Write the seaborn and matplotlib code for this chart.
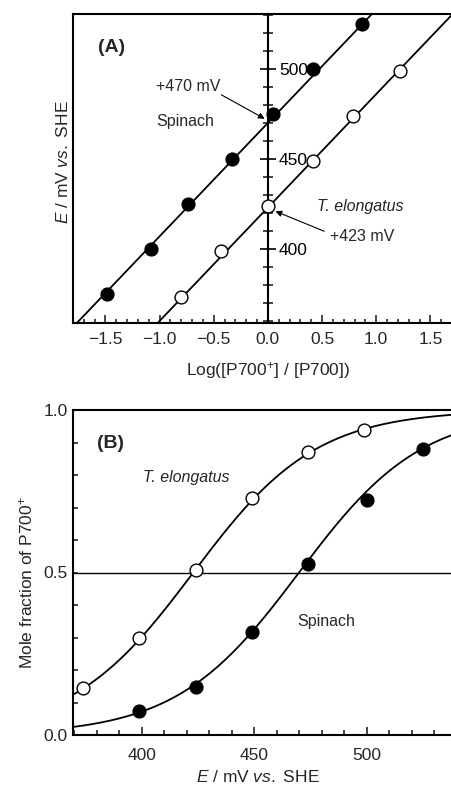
import numpy as np
import pandas as pd
import matplotlib
matplotlib.use("Agg")
import matplotlib.pyplot as plt
from matplotlib.ticker import MultipleLocator, FixedLocator
import seaborn as sns

sns.set_style("ticks")
plt.rcParams['font.family'] = ['Liberation Sans', 'DejaVu Sans']
plt.rcParams['mathtext.fontset'] = 'custom'
plt.rcParams['mathtext.rm'] = 'Liberation Sans'
plt.rcParams['mathtext.it'] = 'Liberation Sans:italic'
plt.rcParams['mathtext.bf'] = 'Liberation Sans:bold'

# ---------------- Data: panel A (Nernst plot) ----------------
spin_logratio = [-1.49, -1.08, -0.74, -0.33, 0.05, 0.42, 0.87]
spin_E_A = [375, 400, 425, 450, 475, 500, 525]
te_logratio = [-0.80, -0.43, 0.0, 0.42, 0.79, 1.22]
te_E_A = [373, 399, 424, 449, 474, 499]

# ---------------- Data: panel B (titration) ----------------
te_E = [374, 399, 424, 449, 474, 499]
te_frac = [0.144, 0.298, 0.508, 0.728, 0.870, 0.938]
spin_E = [399, 424, 449, 474, 500, 525]
spin_frac = [0.074, 0.149, 0.316, 0.525, 0.723, 0.879]

# fit parameters (midpoint potentials, mV per decade)
Em_spin = 470
Em_te = 423
slope = 63

xlimA = (-1.8, 1.70)
ylimA = (359, 530.5)
xlimB = (369.5, 538)
ylimB = (0.0, 1.0)

fig = plt.figure(figsize=(4.52, 7.85), dpi=100)
axA = fig.add_axes([73/452, 1-322.7/785, 1-73/452, (322.7-14)/785])
axB = fig.add_axes([73/452, 1-735/785, 1-73/452, (735-410)/785])

lw = 1.3
# ---------- Panel A ----------
xfit = np.linspace(xlimA[0], xlimA[1], 50)
dfA_lines = pd.DataFrame({
    'x': np.concatenate([xfit, xfit]),
    'E': np.concatenate([Em_spin + slope*xfit, Em_te + slope*xfit]),
    'g': ['s']*len(xfit) + ['t']*len(xfit)})
sns.lineplot(data=dfA_lines, x='x', y='E', units='g', estimator=None,
             color='black', lw=lw, ax=axA, sort=False)
sns.scatterplot(x=spin_logratio, y=spin_E_A, ax=axA, s=85, color='black',
                edgecolor='black', linewidth=1, zorder=5)
sns.scatterplot(x=te_logratio, y=te_E_A, ax=axA, s=85, color='white',
                edgecolor='black', linewidth=1, zorder=5)
axA.set_xlim(*xlimA)
axA.set_ylim(*ylimA)

for s in ['left', 'top', 'bottom', 'right']:
    axA.spines[s].set_linewidth(1.5)
    axA.spines[s].set_color('black')
axA.spines['right'].set_position(('data', 0))
axA.yaxis.tick_right()
axA.yaxis.set_label_position('left')
axA.yaxis.set_major_locator(FixedLocator([400, 450, 500]))
axA.yaxis.set_minor_locator(MultipleLocator(10))
axA.tick_params(axis='y', which='major', direction='inout', length=12, width=1.2,
                labelsize=12.5, pad=2, colors='black')
axA.tick_params(axis='y', which='minor', direction='inout', length=6.5, width=1.2)
axA.xaxis.set_major_locator(MultipleLocator(0.5))
axA.xaxis.set_minor_locator(MultipleLocator(0.1))
axA.tick_params(axis='x', which='major', direction='in', length=5.5, width=1.2,
                labelsize=12.5, pad=7)
axA.tick_params(axis='x', which='minor', direction='in', length=3, width=1.2)
axA.set_xticks([-1.5, -1.0, -0.5, 0.0, 0.5, 1.0, 1.5])
axA.set_xticklabels(['\u22121.5', '\u22121.0', '\u22120.5', '0.0', '0.5', '1.0', '1.5'])

axA.set_xlabel(r'Log([P700$^{+}$] / [P700])', fontsize=12.5)
axA.set_ylabel(r'$\mathit{E}$ / mV $\mathit{vs.}$ SHE', fontsize=12.5)
axA.xaxis.set_label_coords(0.514, -0.122)
axA.yaxis.set_label_coords(-0.006, 0.52)

axA.text(-1.567, 512, '(A)', fontsize=14, fontweight='bold', va='center', ha='left')
axA.text(-1.03, 490, '+470 mV', fontsize=11.5, va='center', ha='left')
axA.text(-1.03, 471, 'Spinach', fontsize=11.5, va='center', ha='left')
axA.text(0.455, 423.6, 'T. elongatus', fontsize=11.5, va='center', ha='left', style='italic')
axA.text(0.575, 406.8, '+423 mV', fontsize=11.5, va='center', ha='left')
axA.annotate('', xy=(-0.03, 472.3), xytext=(-0.43, 485.6),
             arrowprops=dict(arrowstyle='-|>', lw=0.8, color='black',
                             mutation_scale=9, shrinkA=0, shrinkB=0))
axA.annotate('', xy=(0.07, 420.9), xytext=(0.52, 409.8),
             arrowprops=dict(arrowstyle='-|>', lw=0.8, color='black',
                             mutation_scale=9, shrinkA=0, shrinkB=0))

# ---------- Panel B ----------
Efit = np.linspace(xlimB[0], xlimB[1], 200)
dfB_lines = pd.DataFrame({
    'E': np.concatenate([Efit, Efit]),
    'f': np.concatenate([1/(1+10**(-(Efit-Em_te)/slope)),
                         1/(1+10**(-(Efit-Em_spin)/slope))]),
    'g': ['t']*len(Efit) + ['s']*len(Efit)})
sns.lineplot(data=dfB_lines, x='E', y='f', units='g', estimator=None,
             color='black', lw=lw, ax=axB, sort=False)
axB.axhline(0.5, color='black', lw=1.0)
sns.scatterplot(x=spin_E, y=spin_frac, ax=axB, s=85, color='black',
                edgecolor='black', linewidth=1, zorder=5)
sns.scatterplot(x=te_E, y=te_frac, ax=axB, s=85, color='white',
                edgecolor='black', linewidth=1, zorder=5)
axB.set_xlim(*xlimB)
axB.set_ylim(*ylimB)
for s in ['left', 'top', 'bottom']:
    axB.spines[s].set_linewidth(1.5)
    axB.spines[s].set_color('black')
axB.spines['right'].set_visible(False)
axB.yaxis.set_major_locator(FixedLocator([0.0, 0.5, 1.0]))
axB.yaxis.set_minor_locator(MultipleLocator(0.1))
axB.set_yticklabels(['0.0', '0.5', '1.0'])
axB.tick_params(axis='y', which='both', direction='in', length=3.5, width=1.2,
                labelsize=12.5, pad=4)
axB.xaxis.set_major_locator(FixedLocator([400, 450, 500]))
axB.xaxis.set_minor_locator(MultipleLocator(10))
axB.tick_params(axis='x', which='major', direction='in', length=5.5, width=1.2,
                labelsize=12.5, pad=9)
axB.tick_params(axis='x', which='minor', direction='in', length=3.5, width=1.2)
axB.set_xlabel(r'$\mathit{E}$ / mV $\mathit{vs.}$ SHE', fontsize=12.5)
axB.set_ylabel(r'Mole fraction of P700$^{+}$', fontsize=12.5)
axB.xaxis.set_label_coords(0.488, -0.105)
axB.yaxis.set_label_coords(-0.10, 0.47)

axB.text(380.1, 0.898, '(B)', fontsize=14, fontweight='bold', va='center', ha='left')
axB.text(400.6, 0.791, 'T. elongatus', fontsize=11.5, va='center', ha='left', style='italic')
axB.text(469, 0.348, 'Spinach', fontsize=11.5, va='center', ha='left')

fig.savefig('out.png', dpi=100)
